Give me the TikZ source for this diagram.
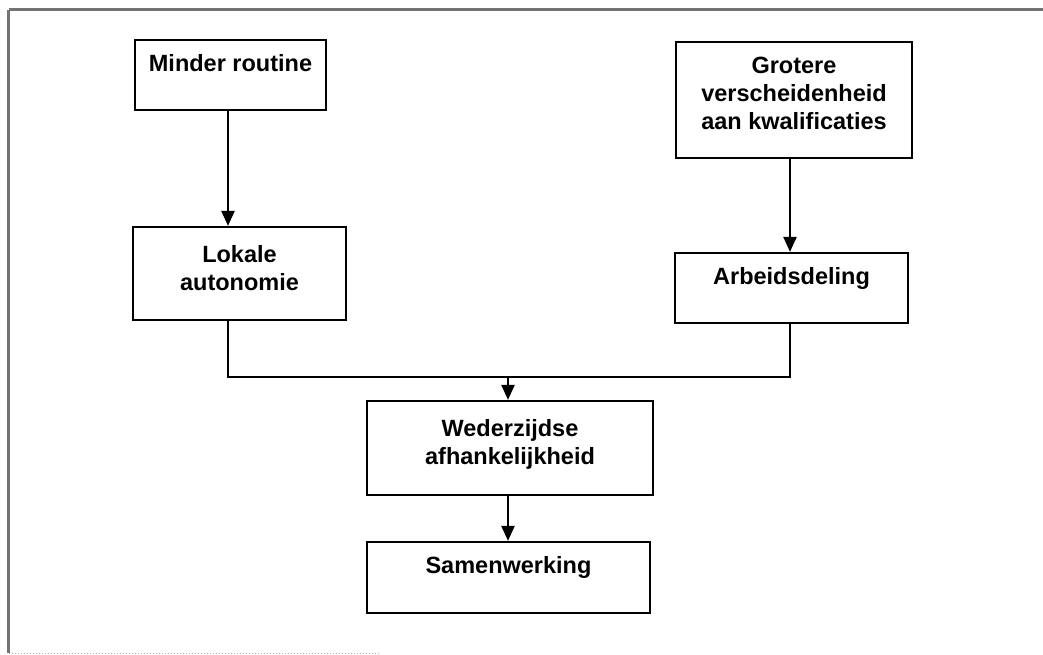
\documentclass[tikz,border=0pt]{standalone}
\usepackage{fontspec}
\setmainfont{Liberation Sans}
\usetikzlibrary{arrows.meta}
\definecolor{framegray}{gray}{0.45}
\definecolor{edgegray}{gray}{0.7}
\tikzset{
  box/.style={draw=black, line width=2.2pt, rectangle, inner sep=0pt},
  txt/.style={font=\fontsize{23.5}{28}\selectfont\bfseries, align=center, inner sep=0pt, anchor=north},
  link/.style={draw=black, line width=2.2pt},
  arrow/.style={link, -{Triangle[length=15pt,width=13pt]}},
}
\newcommand{\flowbox}[6]{%
  % name, left, top, right, bottom, text
  \node[box, minimum width=#4-#2, minimum height=#5-#3] (#1) at ({(#2+#4)/2},{(#3+#5)/2}) {};
  \node[txt] (#1-t) at ([yshift=-15.5pt]#1.north) {#6};
}
\begin{document}
\begin{tikzpicture}[x=1pt,y=-1pt]
  \useasboundingbox (0,0) rectangle (1043,655);

  % frame
  \draw[framegray, line width=3pt] (8.5,10) -- (1043,10);
  \draw[framegray, line width=3pt] (8.5,10) -- (8.5,653);
  \draw[edgegray, line width=1pt, dotted] (8.5,653) -- (380,653);

  % boxes
  \flowbox{minder}{135}{40}{326}{110}{Minder routine}
  \node[box, minimum width=213pt, minimum height=93pt] (lokaal) at (239.5,273.5) {};
  \node[txt] (lokaal-t) at ([yshift=-19pt]lokaal.north) {Lokale\\autonomie};
  \flowbox{grotere}{676}{42}{912}{158}{Grotere\\verscheidenheid\\aan kwalificaties}
  \flowbox{arbeid}{675}{253}{908}{323}{Arbeidsdeling}
  \node[box, minimum width=286pt, minimum height=94pt] (wederz) at (510,448) {};
  \node[txt] (wederz-t) at ([yshift=-19pt]wederz.north) {Wederzijdse\\afhankelijkheid};
  \flowbox{samen}{367}{542}{650}{613}{Samenwerking}

  % connectors
  \coordinate (jl) at (228,377);
  \coordinate (jr) at (790,377);
  \coordinate (jm) at (508,377);
  \draw[arrow] (minder.south -| jl) -- (lokaal.north -| jl);
  \draw[arrow] (grotere.south -| jr) -- (arbeid.north -| jr);
  \draw[link] (lokaal.south -| jl) -- (jl) -- (jr) -- (arbeid.south -| jr);
  \draw[arrow] (jm) -- (wederz.north -| jm);
  \draw[arrow] (wederz.south -| jm) -- (samen.north -| jm);
\end{tikzpicture}
\end{document}
